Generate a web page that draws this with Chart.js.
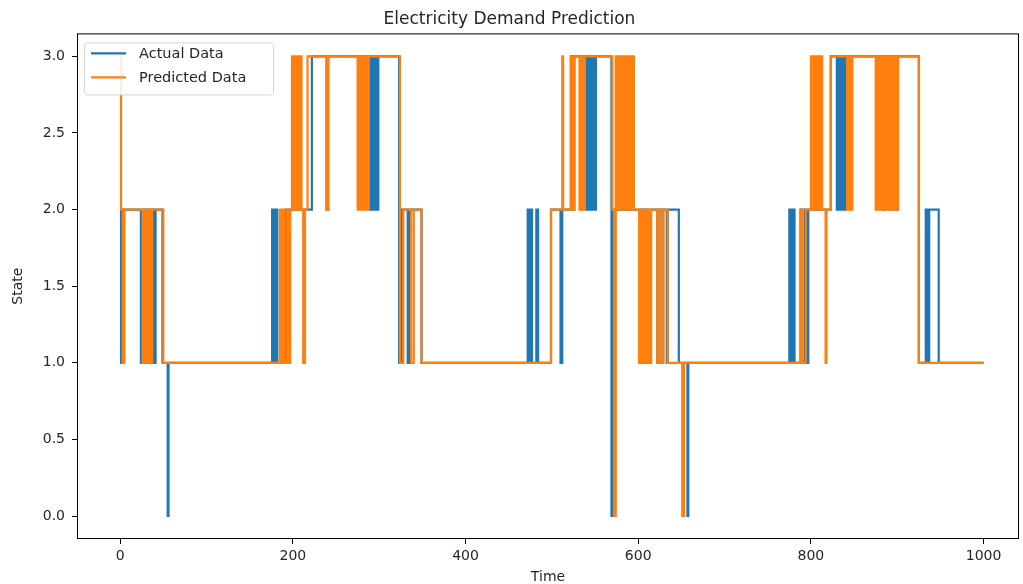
<!DOCTYPE html>
<html>
<head>
<meta charset="utf-8">
<title>Electricity Demand Prediction</title>
<script src="https://cdn.jsdelivr.net/npm/chart.js@4.4.1/dist/chart.umd.min.js"></script>
<style>
  html, body { margin: 0; padding: 0; background: #fff; }
  #wrap { width: 1023px; height: 584px; }
</style>
</head>
<body>
<div id="wrap"><canvas id="chart"></canvas></div>
<script>
// [time, state] at each point where the state changes
const actualSteps = [
    [0, 1], [1, 2], [24, 1], [25, 2], [38, 1], [39, 2], [40, 1], [41, 2], [49, 1], [55, 0], [56, 1],
    [176, 2], [177, 1], [178, 2], [180, 1], [181, 2], [182, 1], [192, 2], [194, 1], [195, 2], [222, 3], [239, 2], [241, 3],
    [289, 2], [290, 3], [292, 2], [293, 3], [295, 2], [296, 3], [298, 2], [299, 3],
    [323, 1], [326, 2], [333, 1], [335, 2], [349, 1],
    [472, 2], [474, 1], [476, 2], [477, 1], [482, 2], [484, 1], [499, 2], [510, 1], [512, 2],
    [522, 3], [524, 2], [526, 3], [540, 2], [541, 3], [543, 2], [544, 3], [546, 2], [547, 3], [549, 2], [551, 3],
    [569, 0], [570, 2], [622, 1], [624, 2], [627, 1], [629, 2], [633, 1], [634, 2], [647, 1], [657, 0], [658, 1],
    [775, 2], [777, 1], [779, 2], [781, 1], [788, 2], [790, 1], [793, 2], [795, 1], [797, 2],
    [823, 3], [830, 2], [832, 3], [834, 2], [836, 3], [838, 2], [840, 3],
    [884, 2], [886, 3], [892, 2], [894, 3], [898, 2], [900, 3],
    [925, 1], [933, 2], [935, 1], [937, 2], [948, 1], [1000, 1]
];

const predictedSteps = [
    [0, 3], [1, 2], [3, 1], [5, 2], [26, 1], [27, 2], [28, 1], [29, 2], [30, 1], [31, 2], [32, 1], [33, 2],
    [34, 1], [35, 2], [36, 1], [37, 2], [50, 1],
    [185, 2], [187, 1], [188, 2], [190, 1], [193, 2], [195, 1], [197, 2],
    [199, 3], [201, 2], [202, 3], [204, 2], [205, 3], [207, 2], [208, 3], [210, 2], [212, 1], [214, 2], [217, 3], [239, 2], [241, 3],
    [275, 2], [277, 3], [279, 2], [281, 3], [283, 2], [285, 3], [287, 2], [288, 3],
    [324, 1], [328, 2], [337, 1], [340, 2], [349, 1],
    [499, 2], [512, 3], [513, 2], [522, 3], [524, 2], [526, 3], [532, 2], [534, 3], [536, 2], [538, 3],
    [570, 2], [572, 0], [574, 3], [576, 2], [578, 3], [580, 2], [582, 3], [584, 2], [586, 3], [588, 2], [590, 3], [592, 2], [594, 3], [595, 2],
    [601, 1], [603, 2], [605, 1], [607, 2], [609, 1], [611, 2], [613, 1], [615, 2], [622, 1], [624, 2], [627, 1], [629, 2], [634, 1],
    [651, 0], [653, 1],
    [788, 2], [790, 1], [794, 2], [800, 3], [802, 2], [804, 3], [806, 2], [808, 3], [810, 2], [812, 3], [813, 2], [817, 1], [818, 2], [823, 3],
    [842, 2], [844, 3], [846, 2], [848, 3],
    [875, 2], [877, 3], [879, 2], [881, 3], [883, 2], [885, 3], [887, 2], [889, 3], [891, 2], [893, 3], [895, 2], [897, 3], [899, 2], [901, 3],
    [925, 1], [1000, 1]
];

const xTicks = [0, 200, 400, 600, 800, 1000];
const yTicks = [0, 0.5, 1, 1.5, 2, 2.5, 3];

const FONT = 'DejaVu Sans';
const TEXT = '#262626';

const toPoints = (steps) => steps.map(([t, s]) => ({ x: t, y: s }));

// matplotlib-style box round the plot area
const frame = {
    id: 'frame',
    afterDatasetsDraw(chart) {
        const { ctx, chartArea: a } = chart;
        ctx.save();
        ctx.strokeStyle = '#000';
        ctx.lineWidth = 1;
        ctx.strokeRect(a.left + 0.5, a.top + 0.5, a.right - a.left - 1, a.bottom - a.top - 1);
        ctx.restore();
    }
};

// legend box in the upper left corner, inside the axes
const innerLegend = {
    id: 'innerLegend',
    afterDraw(chart) {
        const { ctx, chartArea: a } = chart;
        const x = a.left + 7, y = a.top + 9, w = 189, h = 52;
        ctx.save();
        ctx.fillStyle = 'rgba(255,255,255,0.85)';
        ctx.strokeStyle = '#d6d6d6';
        ctx.lineWidth = 1;
        ctx.beginPath();
        ctx.roundRect(x + 0.5, y + 0.5, w, h, 3);
        ctx.fill();
        ctx.stroke();
        ctx.font = '14.5px "' + FONT + '"';
        ctx.textBaseline = 'middle';
        chart.data.datasets.forEach((ds, i) => {
            const ly = y + 11 + i * 24;
            ctx.strokeStyle = ds.borderColor;
            ctx.lineWidth = 2.2;
            ctx.beginPath();
            ctx.moveTo(x + 7, ly);
            ctx.lineTo(x + 42, ly);
            ctx.stroke();
            ctx.fillStyle = TEXT;
            ctx.fillText(ds.label, x + 55, ly + 1);
        });
        ctx.restore();
    }
};

new Chart(document.getElementById('chart'), {
    type: 'line',
    data: {
        datasets: [
            {
                label: 'Actual Data',
                data: toPoints(actualSteps),
                borderColor: '#1f77b4',
                borderWidth: 2.2,
                stepped: 'before',
                pointRadius: 0,
                fill: false,
                order: 1
            },
            {
                label: 'Predicted Data',
                data: toPoints(predictedSteps),
                borderColor: '#ff7f0e',
                borderWidth: 2.2,
                stepped: 'before',
                pointRadius: 0,
                fill: false,
                order: 0
            }
        ]
    },
    options: {
        responsive: true,
        maintainAspectRatio: false,
        animation: false,
        events: [],
        layout: { padding: { left: 0, right: 4, top: 0, bottom: 0 } },
        plugins: {
            legend: { display: false },
            tooltip: { enabled: false },
            title: {
                display: true,
                text: 'Electricity Demand Prediction',
                color: TEXT,
                font: { family: FONT, size: 17, weight: 'normal' },
                padding: { top: 9, bottom: 4 }
            }
        },
        scales: {
            x: {
                type: 'linear',
                min: -50,
                max: 1041,
                afterBuildTicks: (s) => { s.ticks = xTicks.map((v) => ({ value: v })); },
                afterFit: (s) => { s.height = 45; },
                border: { display: false },
                grid: { drawOnChartArea: false, tickLength: 5, tickColor: '#000' },
                ticks: {
                    padding: 4,
                    maxRotation: 0,
                    autoSkip: false,
                    color: TEXT,
                    font: { family: FONT, size: 14 },
                    callback: (v) => String(v)
                },
                title: {
                    display: true,
                    text: 'Time',
                    color: TEXT,
                    font: { family: FONT, size: 14, lineHeight: 1.0 },
                    padding: { top: 0, bottom: 0 }
                }
            },
            y: {
                min: -0.15,
                max: 3.15,
                afterBuildTicks: (s) => { s.ticks = yTicks.map((v) => ({ value: v })); },
                afterFit: (s) => { s.width = 77; },
                border: { display: false },
                grid: { drawOnChartArea: false, tickLength: 5, tickColor: '#000' },
                ticks: {
                    padding: 7,
                    color: TEXT,
                    font: { family: FONT, size: 14 },
                    callback: (v) => v.toFixed(1)
                },
                title: {
                    display: true,
                    text: 'State',
                    color: TEXT,
                    font: { family: FONT, size: 14 },
                    padding: { top: 10, bottom: 0 }
                }
            }
        }
    },
    plugins: [frame, innerLegend]
});
</script>
</body>
</html>
